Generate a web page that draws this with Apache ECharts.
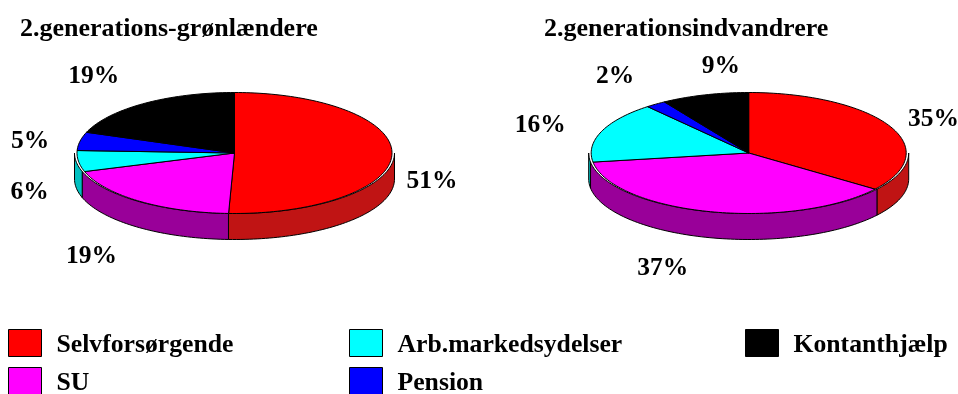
<!DOCTYPE html>
<html><head><meta charset="utf-8">
<style>html,body{margin:0;padding:0;background:#fff}#c{width:958px;height:394px}</style>
<script src="https://cdn.jsdelivr.net/npm/echarts@6/dist/echarts.min.js"></script>
</head><body><div id="c"></div>
<script>
const categories = ['Selvforsørgende','SU','Arb.markedsydelser','Pension','Kontanthjælp'];
const titles = ['2.generations-grønlændere','2.generationsindvandrere'];
const valuesGreenlandic = [50.5,19.4,5.6,4.9,19.4];
const valuesImmigrant = [35.2,37.4,16.3,2.1,9.0];
const topColors = ['#ff0000','#ff00ff','#00ffff','#0000ff','#000000'];
const wallColors = ['#c01414','#990099','#00c0c0','#000099','#000000'];

const pieValues = [valuesGreenlandic, valuesImmigrant];
const centers = [[234.5,153],[748.7,153]];
const rx = 157.5, ry = 60.5, depth = 26, flare = 2.5;
const labelNudges = [
  [[12,0.5],[-31,13.5],[-21,3],[-22.5,4.5],[-34.5,-11]],
  [[19,2.5],[-41,11],[-35,1],[-24,-12],[24,-9.5]]
];
const FONT = '"Liberation Serif","Times New Roman",serif';
const rad = d => d*Math.PI/180;

function angles(p,i){
  const v = pieValues[p];
  const sum = v.reduce((a,b)=>a+b,0);
  const before = v.slice(0,i).reduce((a,b)=>a+b,0);
  return [before/sum*360,(before+v[i])/sum*360];
}
function arc(c,a,b,rX,dy){
  const n = Math.max(2,Math.ceil(Math.abs(b-a)/1.5));
  const pts = [];
  for(let k=0;k<=n;k++){
    const t = rad(a+(b-a)*k/n);
    pts.push([c[0]+rX*Math.sin(t), c[1]-ry*Math.cos(t)+dy]);
  }
  return pts;
}
function renderSlice(params,api){
  const p = api.value(0), i = params.seriesIndex;
  const c = centers[p];
  const [a,b] = angles(p,i);
  const children = [];
  const wa = Math.max(a,90), wb = Math.min(b,270);
  if(wb>wa){
    const pts = arc(c,wa,wb,rx+flare,0).concat(arc(c,wb,wa,rx+flare,depth));
    children.push({type:'polygon',z2:1,shape:{points:pts},
      style:{fill:wallColors[i],stroke:'#000',lineWidth:1}});
  }
  children.push({type:'polygon',z2:2,shape:{points:[c].concat(arc(c,a,b,rx,0))},
    style:{fill:topColors[i],stroke:'#000',lineWidth:1}});
  const mid = rad((a+b)/2), cs = Math.cos(mid), n = labelNudges[p][i];
  children.push({type:'text',z2:3,
    x:c[0]+(rx+28)*Math.sin(mid)+n[0],
    y:c[1]-(ry+20)*cs+(cs<0?depth:0)+n[1],
    style:{text:Math.round(api.value(1))+'%',font:'bold 25.5px '+FONT,fill:'#000',align:'center',verticalAlign:'middle'}});
  return {type:'group',children};
}
const legendText = {fontFamily:FONT,fontWeight:'bold',fontSize:25.7,color:'#000'};
const legendBase = {orient:'vertical',icon:'rect',itemWidth:33,itemHeight:27,itemGap:9,padding:0,top:329,height:90,
  selectedMode:false,itemStyle:{borderColor:'#000',borderWidth:1},
  formatter:name=>'{t|'+name+'}',
  textStyle:Object.assign({},legendText,{rich:{t:Object.assign({},legendText,{padding:[4,0,0,10]})}})};
const titleText = {fontFamily:FONT,fontWeight:'bold',fontSize:26,color:'#000'};
const option = {
  animation:false,
  backgroundColor:'#fff',
  title:[
    {text:titles[0],left:20,top:16,padding:0,textStyle:titleText},
    {text:titles[1],left:544,top:16,padding:0,textStyle:titleText}
  ],
  legend:[
    Object.assign({},legendBase,{left:8,data:[categories[0],categories[1]]}),
    Object.assign({},legendBase,{left:349,data:[categories[2],categories[3]]}),
    Object.assign({},legendBase,{left:745,data:[categories[4]]})
  ],
  series:categories.map((name,i)=>({
    type:'custom',name,coordinateSystem:'none',
    itemStyle:{color:topColors[i]},
    renderItem:renderSlice,
    silent:true,
    data:pieValues.map((v,p)=>[p,v[i]])
  }))
};
echarts.init(document.getElementById('c'),null,{renderer:'canvas'}).setOption(option);
</script></body></html>
